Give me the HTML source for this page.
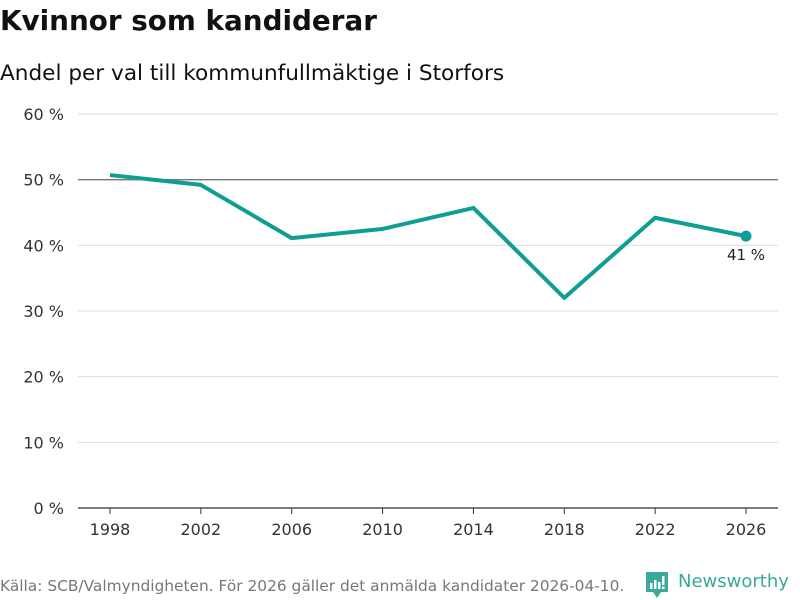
<!DOCTYPE html>
<html><head><meta charset="utf-8"><style>
body{margin:0;width:800px;height:600px;background:#fff;font-family:"DejaVu Sans","Liberation Sans",sans-serif;overflow:hidden;position:relative}
.t{position:absolute;white-space:nowrap}
</style></head><body>
<div class="t" style="left:0;top:4px;font-size:27.8px;font-weight:bold;color:#111">Kvinnor som kandiderar</div>
<div class="t" style="left:0;top:61px;font-size:21.6px;color:#111">Andel per val till kommunfullmäktige i Storfors</div>
<svg id="chart" width="800" height="600" style="position:absolute;left:0;top:0"></svg>
<div class="t" style="left:0;top:577px;font-size:15.4px;color:#777">Källa: SCB/Valmyndigheten. För 2026 gäller det anmälda kandidater 2026-04-10.</div>
<div style="position:absolute;left:645px;top:570px;">
<svg width="24" height="30" style="position:absolute;left:0;top:0"><path d="M1 2h22v20h-7l-4 6-4-6H1z" fill="#3aa89b"/><rect x="5" y="13" width="2.5" height="6" fill="#fff"/><rect x="9" y="10" width="2.5" height="9" fill="#fff"/><rect x="13" y="12" width="2.5" height="7" fill="#fff"/><rect x="17" y="6" width="2.5" height="9" fill="#fff"/><rect x="17" y="16.5" width="2.5" height="2.5" fill="#fff"/></svg>
<div class="t" style="left:33px;top:1px;font-size:18px;color:#3aa89b;font-weight:normal">Newsworthy</div></div>
<script>
const years=[1998,2002,2006,2010,2014,2018,2022,2026];
const values=[50.7,49.2,41.1,42.5,45.7,32.0,44.2,41.4];
const yTicks=[0,10,20,30,40,50,60];
const ns="http://www.w3.org/2000/svg";
const svg=document.getElementById('chart');
const X=v=>110+(v-1998)*(636/28);
const Y=v=>508-v*(394/60);
function el(t,a){const e=document.createElementNS(ns,t);for(const k in a)e.setAttribute(k,a[k]);svg.appendChild(e);return e;}
yTicks.forEach(t=>{
 const l=el('line',{x1:78,x2:778,y1:Y(t),y2:Y(t),stroke:t==50?'#777':(t==0?'#333':'#ddd'),'stroke-width':t==0||t==50?1.3:1});
 
 
 const tx=el('text',{x:64,y:Y(t)+6,'text-anchor':'end','font-size':16,fill:'#333'});tx.textContent=t+' %';
 
 
});
years.forEach(yr=>{
 const tk=el('line',{x1:X(yr),x2:X(yr),y1:508,y2:514,stroke:'#333'});
 
 
 const tx=el('text',{x:X(yr),y:535,'text-anchor':'middle','font-size':16,fill:'#333'});tx.textContent=yr;
 
 
});
const p=el('polyline',{points:years.map((y,i)=>X(y)+','+Y(values[i])).join(' '),fill:'none',stroke:'#0e9e93','stroke-width':4,'stroke-linejoin':'round'});


const n=years.length-1;
const c=el('circle',{cx:X(years[n]),cy:Y(values[n]),r:5.5,fill:'#0e9e93'});


const lb=el('text',{x:X(years[n]),y:Y(values[n])+24,'text-anchor':'middle','font-size':15,fill:'#222'});lb.textContent=Math.round(values[n])+' %';


</script>
</body></html>
